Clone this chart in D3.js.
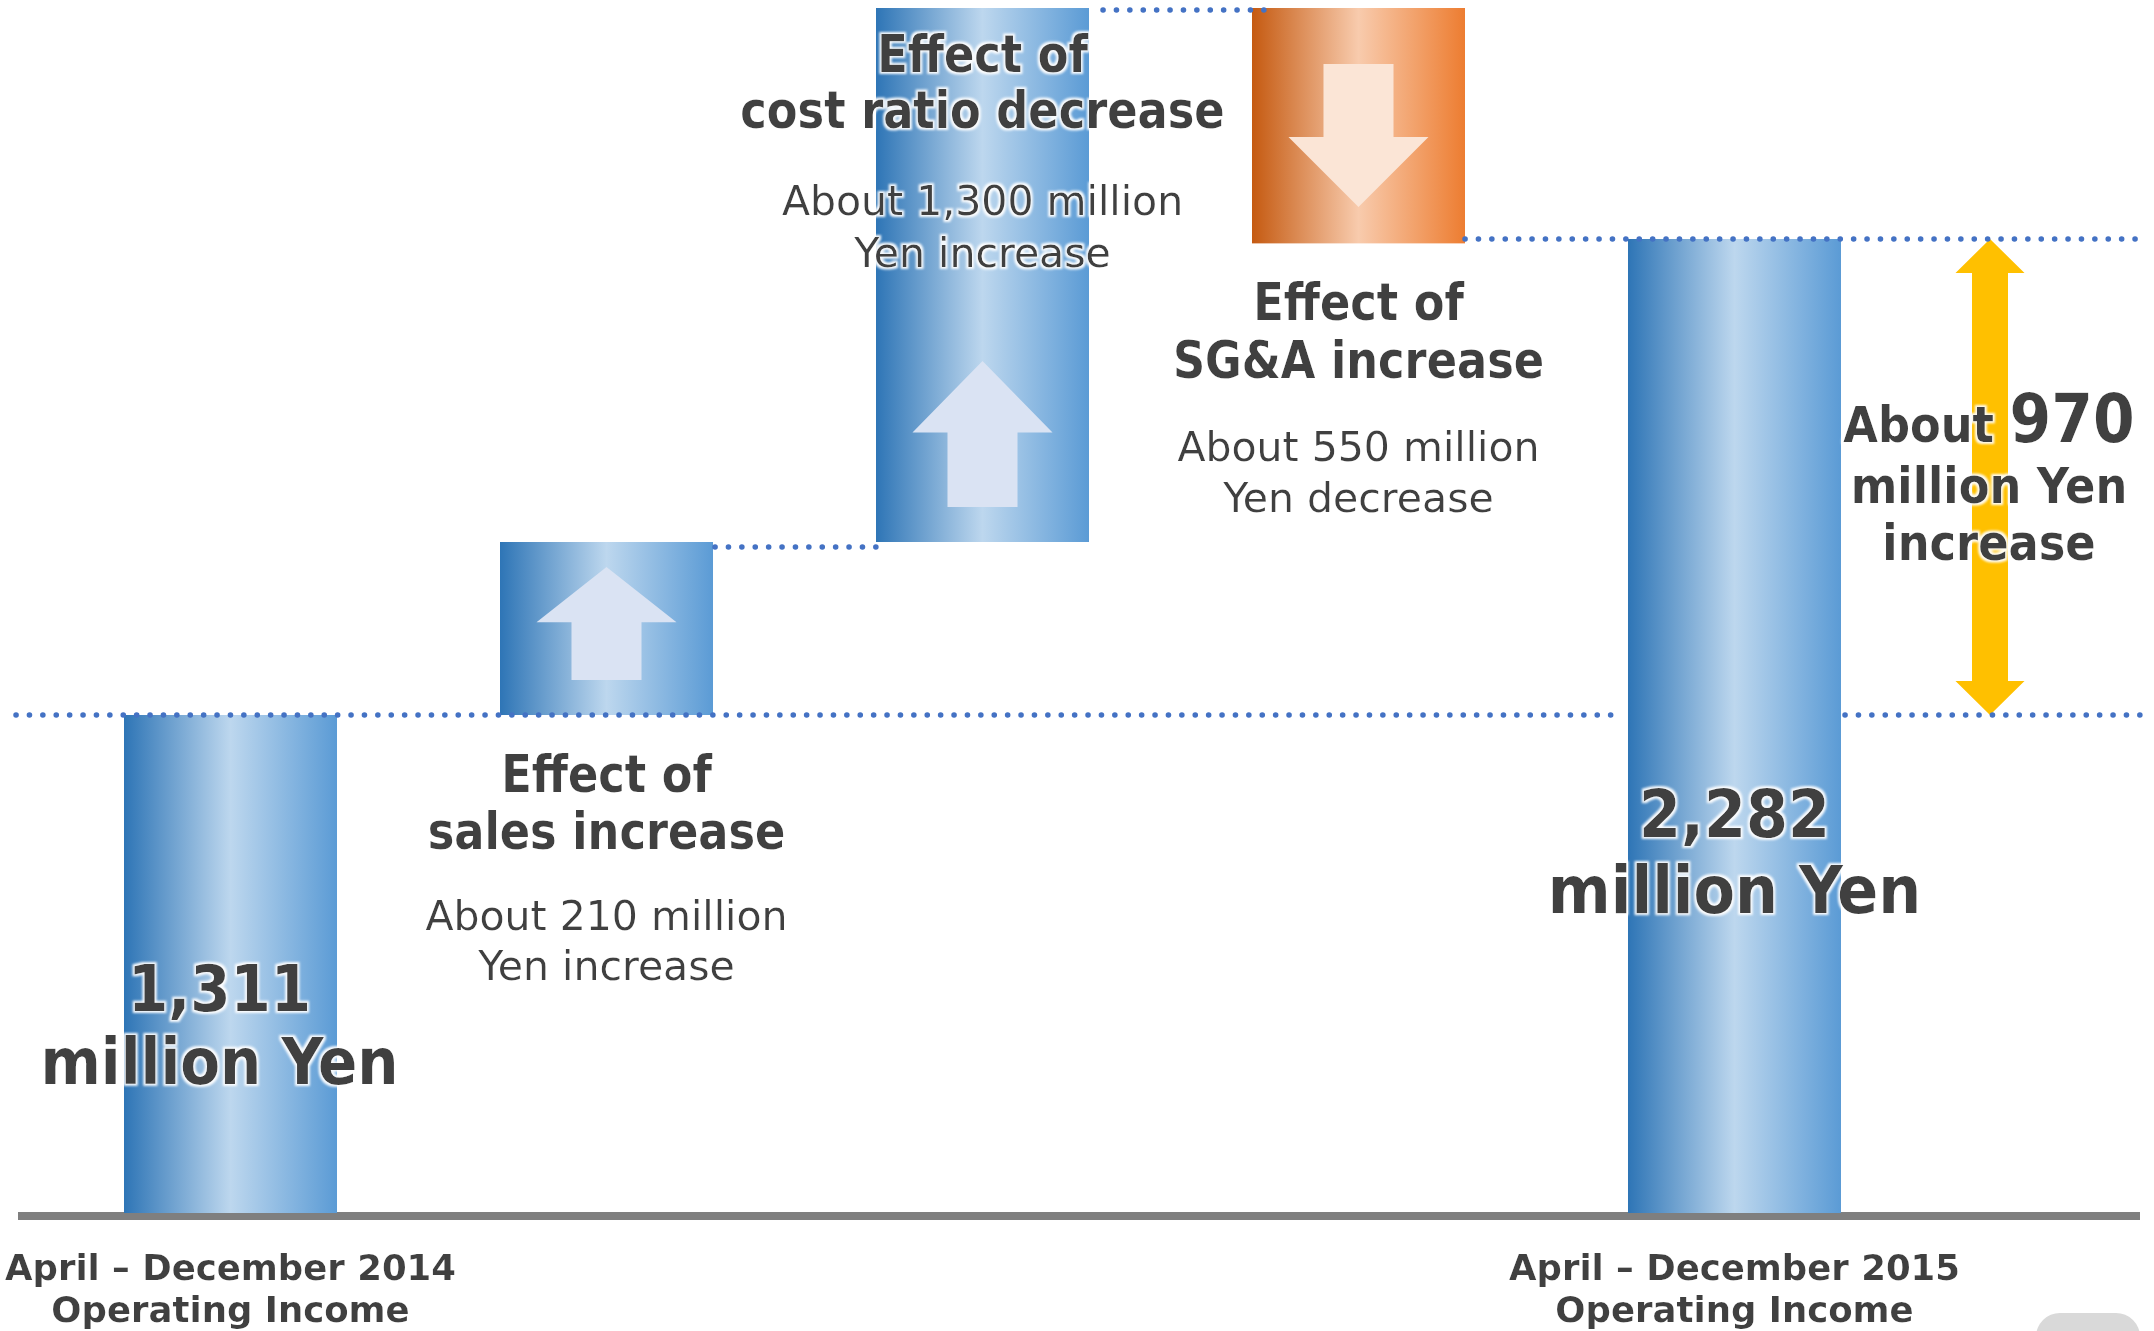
<!DOCTYPE html>
<html>
<head>
<meta charset="utf-8">
<script src="https://cdn.jsdelivr.net/npm/d3@7"></script>
<style>
  body { margin: 0; background: #fff; }
  text { fill: #404040; font-family: "DejaVu Sans", Verdana, sans-serif; }
</style>
</head>
<body>
<div id="chart"></div>
<script>
// data
var categories = ["FY2014", "sales", "costRatio", "sga", "FY2015"];
var kinds = ["total", "delta", "delta", "delta", "total"];
var values = [1311, 210, 1300, -550, 2282];

// text
var valueLabels = [["1,311", "million Yen"], null, null, null, ["2,282", "million Yen"]];
var effectTitles = [null, ["Effect of", "sales increase"], ["Effect of", "cost ratio decrease"], ["Effect of", "SG&A increase"], null];
var effectNotes = [null, ["About 210 million", "Yen increase"], ["About 1,300 million", "Yen increase"], ["About 550 million", "Yen decrease"], null];
var periodLabels = [["April \u2013 December 2014", "Operating Income"], null, null, null, ["April \u2013 December 2015", "Operating Income"]];
var changeLabels = ["About", "970", "million Yen", "increase"];

var width = 2154,
    height = 1331;

var svg = d3.select("#chart")
    .append("svg")
    .attr("width", width)
    .attr("height", height);

var defs = svg.append("defs");

// horizontal "cylinder" gradients
function gradient(id, stops) {
    var g = defs.append("linearGradient").attr("id", id)
        .attr("x1", "0%").attr("x2", "100%").attr("y1", "0%").attr("y2", "0%");
    stops.forEach(s => g.append("stop").attr("offset", s[0]).attr("stop-color", s[1]));
}
gradient("blueGrad", [["0%", "#2E75B6"], ["50%", "#BDD7EE"], ["100%", "#5B9BD5"]]);
gradient("orangeGrad", [["0%", "#C55A11"], ["50%", "#F8CBAD"], ["100%", "#ED7D31"]]);

// soft white halo behind text
var glow = defs.append("filter").attr("id", "glow")
    .attr("x", "-10%").attr("y", "-30%").attr("width", "120%").attr("height", "160%");
glow.append("feMorphology").attr("in", "SourceAlpha").attr("operator", "dilate").attr("radius", 2).attr("result", "d");
glow.append("feGaussianBlur").attr("in", "d").attr("stdDeviation", 1.2).attr("result", "b");
glow.append("feFlood").attr("flood-color", "#ffffff").attr("flood-opacity", 0.95);
glow.append("feComposite").attr("in2", "b").attr("operator", "in").attr("result", "g");
var merge = glow.append("feMerge");
merge.append("feMergeNode").attr("in", "g");
merge.append("feMergeNode").attr("in", "SourceGraphic");

// waterfall levels
var cum = 0;
var bars = values.map((v, i) => {
    if (kinds[i] === "total") {
        cum = v;
        return {i: i, y0: 0, y1: v};
    }
    var b = {i: i, y0: cum, y1: cum + v};
    cum += v;
    return b;
});

// X scale
var x = d3.scaleBand()
    .domain(categories)
    .range([124, 1841])
    .paddingInner(0.4335)
    .paddingOuter(0);
var bw = x.bandwidth();

// Y scale - the original slide is schematic, so a piecewise scale keeps its proportions
var peak = d3.max(bars, d => Math.max(d.y0, d.y1));
var y = d3.scaleLinear()
    .domain([0, values[0], bars[1].y1, values[4], peak])
    .range([1213, 715, 542, 239, 8]);

// axis line
svg.append("line")
    .attr("x1", 18).attr("x2", 2140)
    .attr("y1", y(0) + 3).attr("y2", y(0) + 3)
    .attr("stroke", "#7F7F7F")
    .attr("stroke-width", 8);

// bars
svg.selectAll("rect.bar")
    .data(bars)
    .enter()
    .append("rect")
    .attr("class", "bar")
    .attr("x", d => x(categories[d.i]))
    .attr("y", d => y(Math.max(d.y0, d.y1)))
    .attr("width", bw)
    .attr("height", d => Math.abs(y(d.y0) - y(d.y1)))
    .attr("fill", d => d.y1 < d.y0 ? "url(#orangeGrad)" : "url(#blueGrad)");

// arrows inside the change bars
function arrowPath(cx, yBase, yTip, headW, shaftW, headLen) {
    var dir = yTip < yBase ? -1 : 1;
    var yHead = yTip - dir * headLen;
    return d3.line()([
        [cx - shaftW / 2, yBase], [cx - shaftW / 2, yHead], [cx - headW / 2, yHead],
        [cx, yTip],
        [cx + headW / 2, yHead], [cx + shaftW / 2, yHead], [cx + shaftW / 2, yBase]
    ]) + "Z";
}

bars.filter(d => kinds[d.i] === "delta").forEach(d => {
    var cx = x(categories[d.i]) + bw / 2;
    var top = y(Math.max(d.y0, d.y1)),
        bottom = y(Math.min(d.y0, d.y1));
    var p;
    if (d.y1 > d.y0) {
        var base = bottom - 35;
        var len = Math.min(146, base - top - 25);
        p = arrowPath(cx, base, base - len, 140, 70, len * 0.49);
        svg.append("path").attr("d", p).attr("fill", "#DAE3F3");
    } else {
        var start = top + 56;
        p = arrowPath(cx, start, start + 143, 140, 70, 70);
        svg.append("path").attr("d", p).attr("fill", "#FBE5D6");
    }
});

// yellow double arrow showing the total change
var ax = 1990;
var yA = y(values[4]), yB = y(values[0]);
svg.append("path")
    .attr("d", d3.line()([
        [ax, yA], [ax + 34.5, yA + 34], [ax + 18, yA + 34], [ax + 18, yB - 34], [ax + 34.5, yB - 34],
        [ax, yB], [ax - 34.5, yB - 34], [ax - 18, yB - 34], [ax - 18, yA + 34], [ax - 34.5, yA + 34]
    ]) + "Z")
    .attr("fill", "#FFC000");

// dotted connectors
function dotted(x1, x2, level, dy) {
    svg.append("line")
        .attr("x1", x1).attr("x2", x2)
        .attr("y1", y(level) + (dy || 0)).attr("y2", y(level) + (dy || 0))
        .attr("stroke", "#4472C4")
        .attr("stroke-width", 5.5)
        .attr("stroke-linecap", "round")
        .attr("stroke-dasharray", "0.1 13.3");
}
var last = categories[4];
dotted(16, x(last) - 4, values[0]);
dotted(x(last) + bw + 4, 2140, values[0]);
dotted(x(categories[1]) + bw + 2, x(categories[2]), bars[1].y1, 5);
dotted(x(categories[2]) + bw + 14, x(categories[3]) + 14, bars[2].y1, 2);
dotted(x(categories[3]) + bw, 2140, values[4]);

// text blocks
function textBlock(cx, baselines, lines, size, weight, sx) {
    var g = svg.append("g")
        .attr("transform", `translate(${cx},0) scale(${sx},1)`)
        .attr("filter", "url(#glow)");
    lines.forEach((t, k) => {
        g.append("text")
            .attr("x", 0)
            .attr("y", baselines[k])
            .attr("text-anchor", "middle")
            .style("font-size", size + "px")
            .style("font-weight", weight)
            .text(t);
    });
    return g;
}

var cxOf = i => x(categories[i]) + bw / 2;

// totals
textBlock(cxOf(0) - 11, [1011, 1084], valueLabels[0], 64, "bold", 0.905);
textBlock(cxOf(4), [837, 913], valueLabels[4], 66, "bold", 0.915);

// effect titles and notes
var titleY = {1: [792, 849], 2: [72, 128], 3: [320, 378]};
var noteY = {1: [930, 980], 2: [215, 267], 3: [461, 512]};
[1, 2, 3].forEach(i => {
    textBlock(cxOf(i), titleY[i], effectTitles[i], 52, "bold", 0.86);
    textBlock(cxOf(i), noteY[i], effectNotes[i], 41, "normal", 1);
});

// period labels under the axis
[0, 4].forEach(i => {
    textBlock(cxOf(i), [1280, 1322], periodLabels[i], 35.5, "bold", 1);
});

// change label beside the yellow arrow
var cg = svg.append("g")
    .attr("transform", `translate(${ax - 1},0) scale(0.895,1)`)
    .attr("filter", "url(#glow)");
var t1 = cg.append("text")
    .attr("x", 0).attr("y", 442)
    .attr("text-anchor", "middle")
    .style("font-weight", "bold");
t1.append("tspan").style("font-size", "50px").text(changeLabels[0] + " ");
t1.append("tspan").style("font-size", "67px").text(changeLabels[1]);
cg.append("text")
    .attr("x", 0).attr("y", 503)
    .attr("text-anchor", "middle")
    .style("font-size", "50px").style("font-weight", "bold")
    .text(changeLabels[2]);
cg.append("text")
    .attr("x", 0).attr("y", 560)
    .attr("text-anchor", "middle")
    .style("font-size", "50px").style("font-weight", "bold")
    .text(changeLabels[3]);

// page badge peeking in at the bottom right
svg.append("rect")
    .attr("x", 2036).attr("y", 1313)
    .attr("width", 104).attr("height", 60)
    .attr("rx", 24)
    .attr("fill", "#D9D9D9");
</script>
</body>
</html>
